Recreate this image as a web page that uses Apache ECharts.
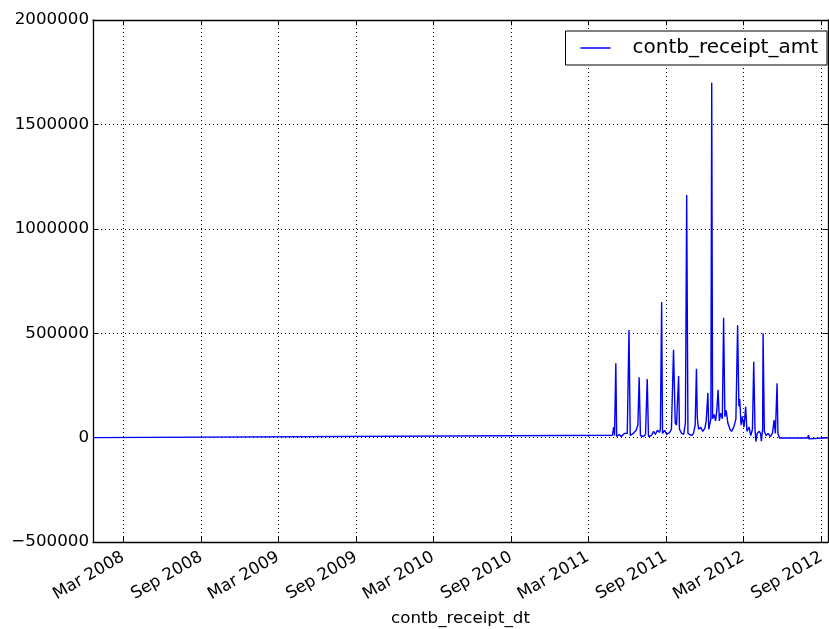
<!DOCTYPE html>
<html><head><meta charset="utf-8">
<script src="https://cdn.jsdelivr.net/npm/echarts@6/dist/echarts.min.js"></script>
<style>html,body{margin:0;padding:0;background:#fff}#c{width:829px;height:629px}</style>
</head><body><div id="c"></div>
<script>
const seriesName = 'contb_receipt_amt';
const xName = 'contb_receipt_dt';
const xRange = ['2007-12-21', '2012-09-17'];
const yMin = -500000, yMax = 2000000, yStep = 500000;
const tickDates = ['2008-03-01','2008-09-01','2009-03-01','2009-09-01','2010-03-01','2010-09-01','2011-03-01','2011-09-01','2012-03-01','2012-09-01'];
const tickLabels = ['Mar 2008','Sep 2008','Mar 2009','Sep 2009','Mar 2010','Sep 2010','Mar 2011','Sep 2011','Mar 2012','Sep 2012'];

const dates = [
 '2007-12-21','2011-04-28','2011-05-01','2011-05-03','2011-05-06','2011-05-08','2011-05-14','2011-05-19','2011-05-26',
 '2011-06-02','2011-06-06','2011-06-09','2011-06-16','2011-06-23','2011-06-27','2011-06-30',
 '2011-07-03','2011-07-10','2011-07-15','2011-07-19','2011-07-22','2011-07-29',
 '2011-08-03','2011-08-07','2011-08-12','2011-08-17','2011-08-19','2011-08-22','2011-08-24','2011-08-29',
 '2011-09-03','2011-09-10','2011-09-14','2011-09-19','2011-09-23','2011-09-26',
 '2011-10-01','2011-10-03','2011-10-08','2011-10-13','2011-10-17','2011-10-20','2011-10-23','2011-10-27',
 '2011-11-01','2011-11-05','2011-11-09','2011-11-12','2011-11-14','2011-11-17','2011-11-22','2011-11-27',
 '2011-12-02','2011-12-05','2011-12-09','2011-12-11','2011-12-13','2011-12-16','2011-12-18','2011-12-20','2011-12-24','2011-12-27','2011-12-30',
 '2012-01-02','2012-01-05','2012-01-08','2012-01-12','2012-01-15','2012-01-18','2012-01-21','2012-01-25','2012-01-30',
 '2012-02-03','2012-02-08','2012-02-13','2012-02-17','2012-02-20','2012-02-22','2012-02-25','2012-02-28',
 '2012-03-03','2012-03-07','2012-03-10','2012-03-15','2012-03-19','2012-03-23','2012-03-26','2012-03-29','2012-03-31',
 '2012-04-03','2012-04-08','2012-04-11','2012-04-13','2012-04-16','2012-04-17','2012-04-20','2012-04-24','2012-04-29',
 '2012-05-04','2012-05-09','2012-05-13','2012-05-16','2012-05-20','2012-05-22','2012-05-26',
 '2012-07-31','2012-08-02','2012-08-03','2012-09-17'
];
const amounts = [
 0, 11000, 50000, 10000, 356000, 5000, 15000, 5000, 20000,
 20000, 515000, 10000, 20000, 35000, 60000, 289000,
 10000, 5000, 15000, 281000, 5000, 10000,
 30000, 15000, 35000, 25000, 40000, 649000, 20000, 35000,
 15000, 25000, 40000, 421000, 70000, 60000,
 295000, 40000, 20000, 15000, 70000, 1162000, 20000, 25000,
 10000, 20000, 60000, 330000, 95000, 40000, 50000, 30000,
 45000, 80000, 214000, 40000, 60000, 90000, 1700000, 90000, 110000, 80000, 130000,
 229000, 80000, 117000, 90000, 574000, 100000, 130000, 70000, 40000,
 30000, 50000, 90000, 538000, 150000, 185000, 60000, 100000,
 50000, 147000, 30000, 50000, 10000, 40000, 363000, 40000, -19000,
 20000, 30000, 20000, -17000, 40000, 500000, 30000, 10000, 20000,
 5000, 20000, 84000, 20000, 260000, 20000, -2000,
 -2000, 12000, -6000, -1000
];

function ts(s){const p=s.split('-').map(Number);return Date.UTC(p[0],p[1]-1,p[2]);}
const tickTs = tickDates.map(ts);
const data = dates.map((d,i)=>[ts(d), amounts[i]]);
const FONT = 'DejaVu Sans';
const BLACK = '#000';
function xLabel(v){
  let best=0, bd=Infinity;
  tickTs.forEach((t,i)=>{const dd=Math.abs(t-v); if(dd<bd){bd=dd;best=i;}});
  return tickLabels[best];
}
const chart = echarts.init(document.getElementById('c'), null, {renderer:'canvas'});
chart.setOption({
  animation:false,
  backgroundColor:'#fff',
  grid:{left:93,right:1,top:20,bottom:87,containLabel:false,outerBoundsMode:'none'},
  legend:{
    show:true, type:'plain',
    right:2, top:31, orient:'horizontal',
    borderColor:BLACK, borderWidth:1, backgroundColor:'#fff',
    padding:[7,9,7,15], itemWidth:30, itemHeight:1.5, itemGap:0,
    textStyle:{fontFamily:FONT,fontSize:20,color:BLACK,padding:[0,0,0,17]},
    data:[{name:seriesName, icon:'rect', itemStyle:{color:'#0000ff'}}]
  },
  xAxis:[{
    type:'value', min:ts(xRange[0]), max:ts(xRange[1]), position:'bottom', scale:true,
    name:xName, nameLocation:'middle', nameGap:68,
    nameTextStyle:{fontFamily:FONT,fontSize:16.7,color:BLACK},
    axisLine:{show:true,onZero:false,lineStyle:{color:BLACK,width:1.3}},
    axisTick:{show:true,inside:true,length:5.5,customValues:tickTs,lineStyle:{color:BLACK,width:1}},
    axisLabel:{show:true,customValues:tickTs,rotate:30,margin:14,formatter:xLabel,
      fontFamily:FONT,fontSize:16.7,color:BLACK,hideOverlap:false},
    splitLine:{show:true,lineStyle:{color:BLACK,width:1,type:[1,3]}},
    minorTick:{show:false}
  },{
    type:'value', min:ts(xRange[0]), max:ts(xRange[1]), position:'top', scale:true,
    axisLine:{show:true,onZero:false,lineStyle:{color:BLACK,width:1.3}},
    axisTick:{show:true,inside:true,length:5.5,customValues:tickTs,lineStyle:{color:BLACK,width:1}},
    axisLabel:{show:false},
    splitLine:{show:false}
  }],
  yAxis:[{
    type:'value', min:yMin, max:yMax, interval:yStep, position:'left',
    axisLine:{show:true,onZero:false,lineStyle:{color:BLACK,width:1.3}},
    axisTick:{show:true,inside:true,length:5.5,lineStyle:{color:BLACK,width:1}},
    axisLabel:{show:true,margin:4,fontFamily:FONT,fontSize:16.7,color:BLACK,
      formatter:v=>String(v).replace('-','\u2212')},
    splitLine:{show:true,lineStyle:{color:BLACK,width:1,type:[1,3]}}
  },{
    type:'value', min:yMin, max:yMax, interval:yStep, position:'right',
    axisLine:{show:true,onZero:false,lineStyle:{color:BLACK,width:1.3}},
    axisTick:{show:true,inside:true,length:5.5,lineStyle:{color:BLACK,width:1}},
    axisLabel:{show:false}, splitLine:{show:false}
  }],
  series:[{
    name:seriesName, type:'line', xAxisIndex:0, yAxisIndex:0,
    data:data, symbol:'none', showSymbol:false,
    lineStyle:{color:'#0000ff',width:1.4}, itemStyle:{color:'#0000ff'},
    z:3
  }]
});
</script></body></html>
